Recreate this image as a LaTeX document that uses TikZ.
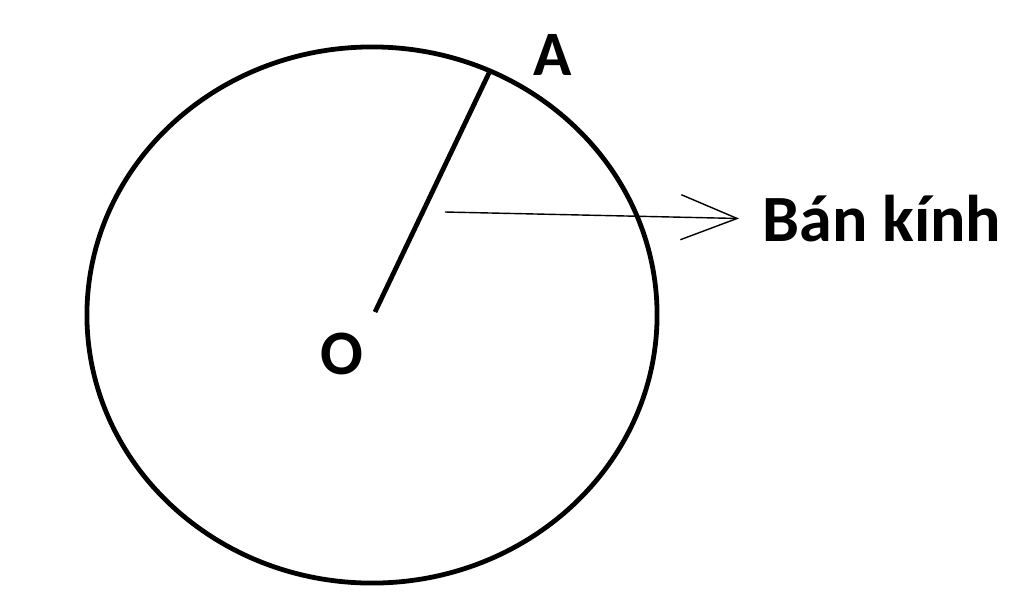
\documentclass[tikz,border=0pt]{standalone}
\usepackage{fontspec}
\setmainfont{Carlito}
\usetikzlibrary{arrows.meta}
\tikzset{
  lbl/.style={font=\fontsize{45}{45}\selectfont\bfseries, inner sep=0pt},
  rim/.style={line width=3.4pt},
  pointer/.style={line width=1pt, shorten >=0.575cm, -{Straight Barb[length=40pt,width=32pt]}}
}
\begin{document}
\begin{tikzpicture}[x=0.025cm,y=-0.025cm]
                \useasboundingbox (0,0) rectangle (1024,600);
                \node[lbl] (A) at (553,55) {A};
                \node[lbl] (O) at (342,354) {O};
                \node[lbl, font=\fontsize{47}{47}\selectfont\bfseries, anchor=west] (bk) at (762,219) {Bán kính};
                \coordinate (ctr) at (375,312);
                \coordinate (rimA) at (489,73);
                \coordinate (tail) at (445,212);

                \draw[rim] (372,315) ellipse [x radius=7.125cm, y radius=6.7cm];
                \draw[rim] (ctr) -- (rimA);
                \draw[pointer] (tail) to (bk.west);
            \end{tikzpicture}
\end{document}
